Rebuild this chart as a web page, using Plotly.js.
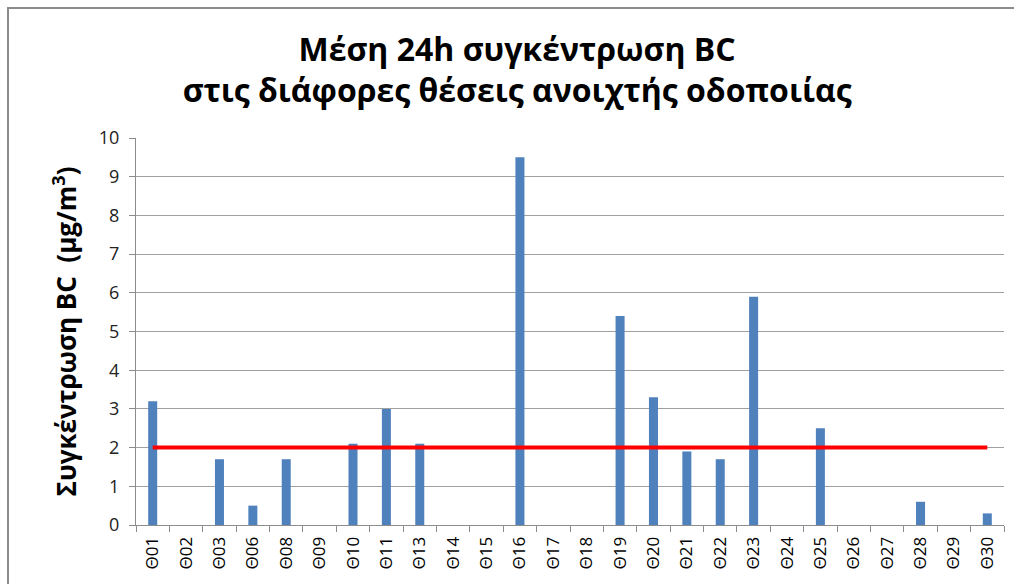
<!DOCTYPE html>
<html>
<head>
<meta charset="utf-8">
<script src="https://cdn.plot.ly/plotly-3.0.1.min.js"></script>
<style>
html,body{margin:0;padding:0;overflow:hidden;background:#fff;}
#chart{width:1014px;height:584px;position:absolute;left:0;top:0;}
#frame{position:absolute;left:7px;top:7px;width:1100px;height:700px;border:2px solid #8c8c8c;pointer-events:none;}
</style>
</head>
<body>
<div id="chart"></div>
<div id="frame"></div>
<script>
const categories = ["Θ01","Θ02","Θ03","Θ06","Θ08","Θ09","Θ10","Θ11","Θ13","Θ14","Θ15","Θ16","Θ17","Θ18","Θ19","Θ20","Θ21","Θ22","Θ23","Θ24","Θ25","Θ26","Θ27","Θ28","Θ29","Θ30"];
const bcValues = [3.2,0,1.7,0.5,1.7,0,2.1,3.0,2.1,0,0,9.5,0,0,5.4,3.3,1.9,1.7,5.9,0,2.5,0,0,0.6,0,0.3];
const limitValue = 2;
const limitLine = categories.map(() => limitValue);
const yTicks = [0,1,2,3,4,5,6,7,8,9,10];

const font = "'Open Sans', 'Noto Sans', sans-serif";

const data = [
  {
    type: 'bar',
    x: categories,
    y: bcValues,
    marker: {color: '#4F81BD'},
    hoverinfo: 'x+y',
    showlegend: false
  },
  {
    type: 'scatter',
    mode: 'lines',
    x: categories,
    y: limitLine,
    line: {color: '#ff0000', width: 4},
    showlegend: false
  }
];

const layout = {
  width: 1014,
  height: 584,
  margin: {l: 136, r: 10, t: 138, b: 59},
  paper_bgcolor: '#ffffff',
  plot_bgcolor: '#ffffff',
  bargap: 0.73,
  title: {
    text: '<b>Μέση 24h συγκέντρωση BC<br>στις διάφορες θέσεις ανοιχτής οδοποιίας</b>',
    font: {family: font, size: 32, color: '#000000'},
    x: 0.51,
    xanchor: 'center',
    yref: 'container',
    y: 0.896,
    yanchor: 'middle'
  },
  xaxis: {
    type: 'category',
    tickangle: -90,
    tickfont: {family: font, size: 17, color: '#000000'},
    ticklabelstandoff: 4,
    showline: true,
    linecolor: '#8c8c8c',
    linewidth: 1,
    ticks: 'outside',
    tickson: 'boundaries',
    ticklen: 6,
    tickcolor: '#8c8c8c',
    showgrid: false,
    zeroline: false,
    fixedrange: true
  },
  yaxis: {
    range: [0, 10],
    tickvals: yTicks,
    tickfont: {family: font, size: 18, color: '#222222'},
    ticklabelstandoff: 6,
    showline: true,
    linecolor: '#8c8c8c',
    linewidth: 1,
    ticks: 'outside',
    ticklen: 6,
    tickcolor: '#8c8c8c',
    showgrid: true,
    gridcolor: '#a0a0a0',
    gridwidth: 1,
    zeroline: false,
    title: {
      text: '<b>Συγκέντρωση BC  (μg/m<sup>3</sup>)</b>',
      font: {family: font, size: 26, color: '#000000'},
      standoff: 14
    },
    fixedrange: true
  }
};

Plotly.newPlot('chart', data, layout, {displayModeBar: false});
</script>
</body>
</html>
